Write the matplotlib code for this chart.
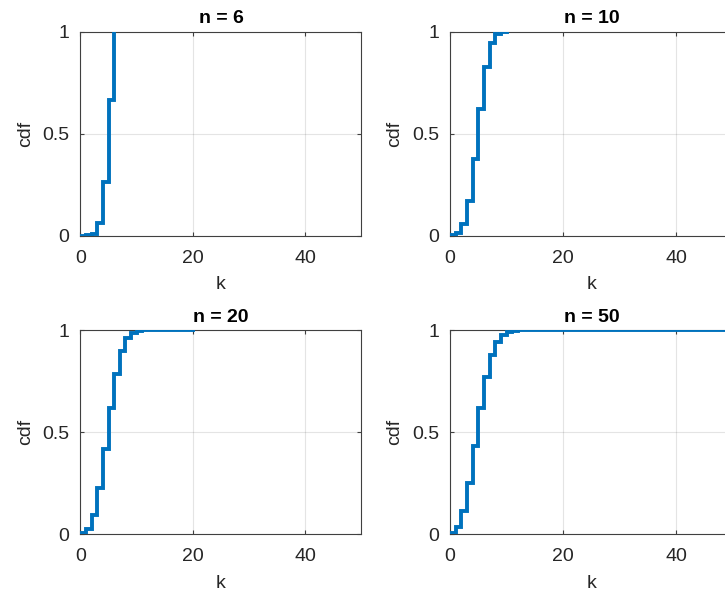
import matplotlib
matplotlib.use("Agg")
import matplotlib.pyplot as plt

plt.rcParams["font.family"] = ["Liberation Sans", "DejaVu Sans"]

# values (cdf at k = 0..n)
cdf_n6 = [0.0000, 0.0007, 0.0087, 0.0623, 0.2632, 0.6651, 1.0]
cdf_n10 = [0.0010, 0.0107, 0.0547, 0.1719, 0.3770, 0.6230, 0.8281,
           0.9453, 0.9893, 0.9990, 1.0]
cdf_n20 = [0.0032, 0.0243, 0.0913, 0.2252, 0.4148, 0.6172, 0.7858,
           0.8982, 0.9591, 0.9861, 0.9961, 0.9991, 0.9998, 1.0, 1.0,
           1.0, 1.0, 1.0, 1.0, 1.0, 1.0]
cdf_n50 = [0.0052, 0.0338, 0.1117, 0.2503, 0.4312, 0.6161, 0.7702,
           0.8779, 0.9421, 0.9755, 0.9906, 0.9968, 0.9990, 0.9997,
           0.9999] + [1.0] * 36

ns = [6, 10, 20, 50]
cdfs = [cdf_n6, cdf_n10, cdf_n20, cdf_n50]
titles = ["n = 6", "n = 10", "n = 20", "n = 50"]

x_ticks = [0, 20, 40]
y_ticks = [0, 0.5, 1]
y_ticklabels = ["0", "0.5", "1"]

fig = plt.figure(figsize=(7.25, 5.98), dpi=100)
fig.patch.set_facecolor("white")

positions = [
    [0.111, 0.606, 0.3876, 0.341],
    [0.6207, 0.606, 0.390, 0.341],
    [0.111, 0.107, 0.3876, 0.341],
    [0.6207, 0.107, 0.390, 0.341],
]

edge = "#404040"
for pos, n, cdf, title in zip(positions, ns, cdfs, titles):
    ax = fig.add_axes(pos)
    ks = list(range(n + 1))
    ax.step(ks, cdf, where="post", color="#0072BD", linewidth=2.8,
            solid_joinstyle="miter", zorder=3)
    ax.set_xlim(0, 50)
    ax.set_ylim(0, 1)
    ax.set_xticks(x_ticks)
    ax.set_yticks(y_ticks)
    ax.set_yticklabels(y_ticklabels)
    ax.grid(True, color="#262626", alpha=0.12, linewidth=0.8)
    ax.tick_params(direction="in", length=3, width=0.8, colors=edge,
                   labelcolor="#262626", labelsize=14, top=True, right=True)
    ax.tick_params(axis="x", pad=10)
    ax.tick_params(axis="y", pad=8)
    for s in ax.spines.values():
        s.set_color(edge)
        s.set_linewidth(0.8)
    ax.set_xlabel("k", fontsize=14, color="#262626", labelpad=7)
    ax.set_ylabel("cdf", fontsize=14, color="#262626", labelpad=6)
    ax.set_title(title, fontsize=14, fontweight="bold", pad=6)

plt.savefig("out.png", dpi=100, facecolor="white")
plt.close()
